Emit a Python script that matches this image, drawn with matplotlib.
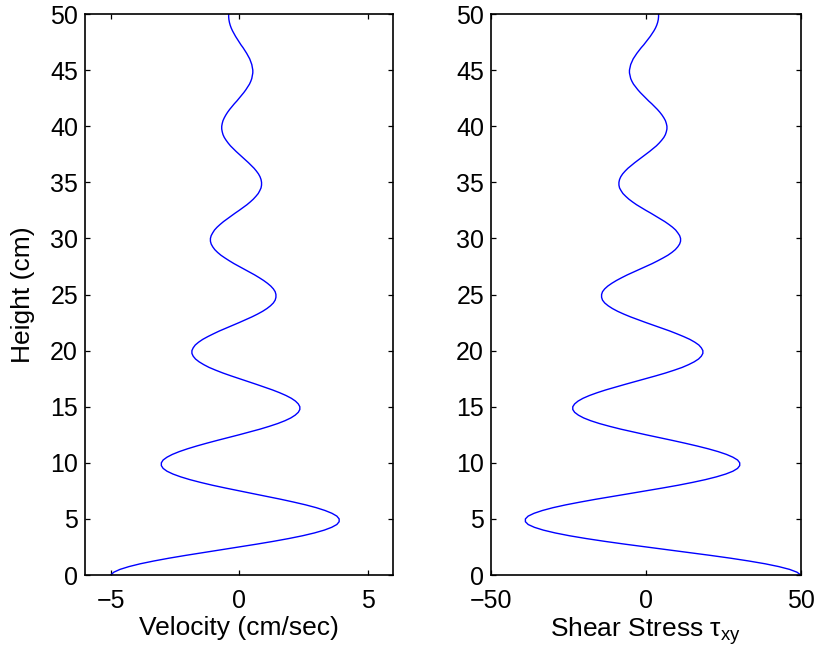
import numpy as np
import matplotlib
matplotlib.use("Agg")
import matplotlib.pyplot as plt

plt.rcParams['font.family'] = ['Liberation Sans', 'DejaVu Sans']
plt.rcParams['mathtext.fontset'] = 'custom'
plt.rcParams['mathtext.rm'] = 'Liberation Sans'
plt.rcParams['mathtext.it'] = 'Liberation Sans:italic'

# heights read every 0.25 cm
height = np.arange(0, 50.01, 0.25)

velocity = [
    -5.00, -4.88, -4.64, -4.29, -3.85, -3.32, -2.73, -2.08, -1.40, -0.70,
    0.00, 0.68, 1.33, 1.93, 2.47, 2.93, 3.31, 3.60, 3.80, 3.89,
    3.89, 3.80, 3.61, 3.34, 3.00, 2.59, 2.12, 1.62, 1.09, 0.54,
    0.00, -0.53, -1.04, -1.50, -1.92, -2.28, -2.58, -2.81, -2.96, -3.03,
    -3.03, -2.96, -2.81, -2.60, -2.33, -2.01, -1.65, -1.26, -0.85, -0.42,
    0.00, 0.41, 0.81, 1.17, 1.50, 1.78, 2.01, 2.18, 2.30, 2.36,
    2.36, 2.30, 2.19, 2.03, 1.82, 1.57, 1.29, 0.98, 0.66, 0.33,
    0.00, -0.32, -0.63, -0.91, -1.17, -1.38, -1.56, -1.70, -1.79, -1.84,
    -1.84, -1.79, -1.71, -1.58, -1.42, -1.22, -1.00, -0.77, -0.51, -0.26,
    0.00, 0.25, 0.49, 0.71, 0.91, 1.08, 1.22, 1.33, 1.40, 1.43,
    1.43, 1.40, 1.33, 1.23, 1.10, 0.95, 0.78, 0.60, 0.40, 0.20,
    0.00, -0.20, -0.38, -0.55, -0.71, -0.84, -0.95, -1.03, -1.09, -1.12,
    -1.12, -1.09, -1.03, -0.96, -0.86, -0.74, -0.61, -0.46, -0.31, -0.16,
    0.00, 0.15, 0.30, 0.43, 0.55, 0.65, 0.74, 0.80, 0.85, 0.87,
    0.87, 0.85, 0.81, 0.75, 0.67, 0.58, 0.47, 0.36, 0.24, 0.12,
    0.00, -0.12, -0.23, -0.34, -0.43, -0.51, -0.58, -0.63, -0.66, -0.68,
    -0.68, -0.66, -0.63, -0.58, -0.52, -0.45, -0.37, -0.28, -0.19, -0.09,
    0.00, 0.09, 0.18, 0.26, 0.33, 0.40, 0.45, 0.49, 0.51, 0.53,
    0.53, 0.51, 0.49, 0.45, 0.41, 0.35, 0.29, 0.22, 0.15, 0.07,
    0.00, -0.07, -0.14, -0.20, -0.26, -0.31, -0.35, -0.38, -0.40, -0.41,
    -0.41,
]

shear = [
    50.0, 48.8, 46.4, 42.9, 38.5, 33.2, 27.3, 20.8, 14.0, 7.0,
    0.0, -6.8, -13.3, -19.3, -24.7, -29.3, -33.1, -36.0, -38.0, -38.9,
    -38.9, -38.0, -36.1, -33.4, -30.0, -25.9, -21.2, -16.2, -10.9, -5.4,
    0.0, 5.3, 10.4, 15.0, 19.2, 22.8, 25.8, 28.1, 29.6, 30.3,
    30.3, 29.6, 28.1, 26.0, 23.3, 20.1, 16.5, 12.6, 8.5, 4.2,
    0.0, -4.1, -8.1, -11.7, -15.0, -17.8, -20.1, -21.8, -23.0, -23.6,
    -23.6, -23.0, -21.9, -20.3, -18.2, -15.7, -12.9, -9.8, -6.6, -3.3,
    0.0, 3.2, 6.3, 9.1, 11.7, 13.8, 15.6, 17.0, 17.9, 18.4,
    18.4, 17.9, 17.1, 15.8, 14.2, 12.2, 10.0, 7.7, 5.1, 2.6,
    0.0, -2.5, -4.9, -7.1, -9.1, -10.8, -12.2, -13.3, -14.0, -14.3,
    -14.3, -14.0, -13.3, -12.3, -11.0, -9.5, -7.8, -6.0, -4.0, -2.0,
    0.0, 2.0, 3.8, 5.5, 7.1, 8.4, 9.5, 10.3, 10.9, 11.2,
    11.2, 10.9, 10.3, 9.6, 8.6, 7.4, 6.1, 4.6, 3.1, 1.6,
    0.0, -1.5, -3.0, -4.3, -5.5, -6.5, -7.4, -8.0, -8.5, -8.7,
    -8.7, -8.5, -8.1, -7.5, -6.7, -5.8, -4.7, -3.6, -2.4, -1.2,
    0.0, 1.2, 2.3, 3.4, 4.3, 5.1, 5.8, 6.3, 6.6, 6.8,
    6.8, 6.6, 6.3, 5.8, 5.2, 4.5, 3.7, 2.8, 1.9, 0.9,
    0.0, -0.9, -1.8, -2.6, -3.3, -4.0, -4.5, -4.9, -5.1, -5.3,
    -5.3, -5.1, -4.9, -4.5, -4.1, -3.5, -2.9, -2.2, -1.5, -0.7,
    0.0, 0.7, 1.4, 2.0, 2.6, 3.1, 3.5, 3.8, 4.0, 4.1,
    4.1,
]

fig = plt.figure(figsize=(8.2, 6.61), dpi=100)
ax1 = fig.add_axes([0.1037, 0.1301, 0.376, 0.8487])
ax2 = fig.add_axes([0.5988, 0.1301, 0.3777, 0.8487])

for ax in (ax1, ax2):
    ax.set_ylim(0, 50)
    ax.set_yticks(np.arange(0, 51, 5))
    ax.tick_params(direction='in', top=True, right=True, length=3.6,
                   width=0.9, labelsize=18)
    ax.tick_params(axis='y', pad=5)
    ax.tick_params(axis='x', pad=10)
    for s in ax.spines.values():
        s.set_linewidth(1.2)

ax1.plot(velocity, height, color='#0000ff', linewidth=1)
ax1.set_xlim(-6, 6)
ax1.set_xticks([-5, 0, 5])
ax1.set_xticklabels(['\u22125', '0', '5'])
ax1.set_xlabel('Velocity (cm/sec)', fontsize=19, labelpad=2)
ax1.set_ylabel('Height (cm)', fontsize=19, labelpad=11)

ax2.plot(shear, height, color='#0000ff', linewidth=1)
ax2.set_xlim(-50, 50)
ax2.set_xticks([-50, 0, 50])
ax2.set_xticklabels(['\u221250', '0', '50'])
ax2.set_xlabel(r'Shear Stress $\mathrm{\tau}_{\mathrm{xy}}$', fontsize=19, labelpad=2)

fig.savefig('out.png', dpi=100)
